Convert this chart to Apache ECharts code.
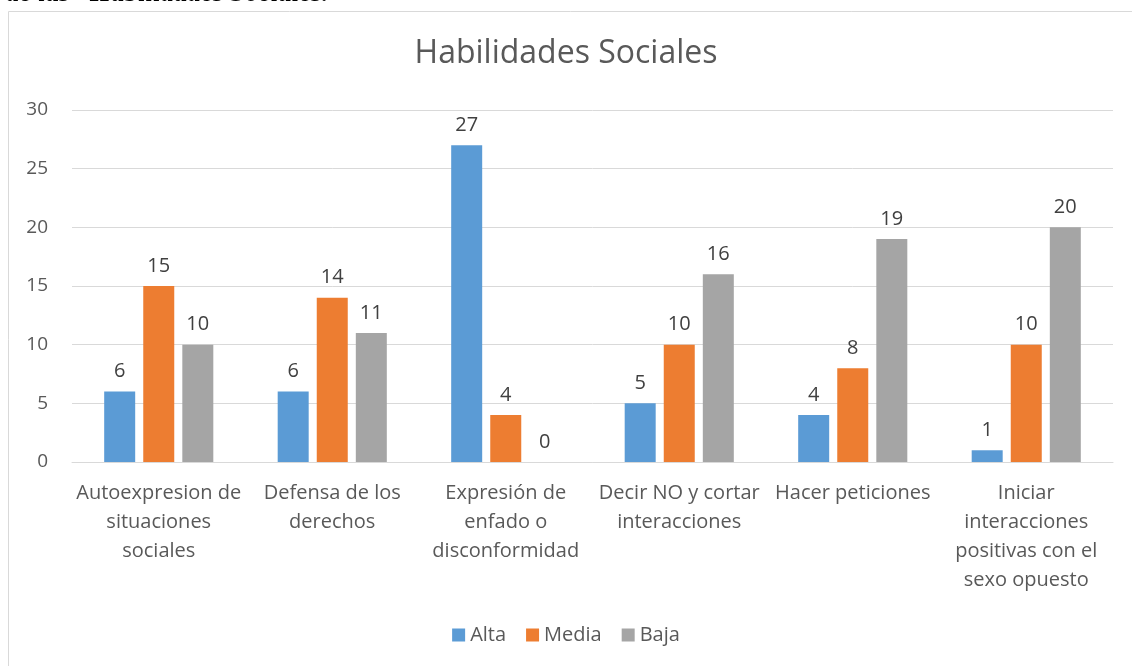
<!DOCTYPE html>
<html lang="es">

<head>
    <meta charset="UTF-8">
    <title>Habilidades Sociales</title>
    <script src="https://cdn.jsdelivr.net/npm/echarts@6/dist/echarts.min.js"></script>
    <style>
        html, body { margin: 0; padding: 0; background: #fff; }
    </style>
</head>

<body>
    <div id="main" style="width: 1132px;height:666px;"></div>
    <script>
        // datos
        var categorias = [
            'Autoexpresion de\nsituaciones\nsociales',
            'Defensa de los\nderechos',
            'Expresión de\nenfado o\ndisconformidad',
            'Decir NO y cortar\ninteracciones',
            'Hacer peticiones',
            'Iniciar\ninteracciones\npositivas con el\nsexo opuesto'
        ];
        var alta = [6, 6, 27, 5, 4, 1];
        var media = [15, 14, 4, 10, 8, 10];
        var baja = [10, 11, 0, 16, 19, 20];
        var yTicks = [0, 5, 10, 15, 20, 25, 30];

        var font = '"Open Sans", "Noto Sans", sans-serif';
        var myChart = echarts.init(document.getElementById('main'));

        function serie(name, data, color) {
            return {
                name: name,
                type: 'bar',
                data: data,
                barWidth: 31,
                barGap: '26%',
                itemStyle: { color: color },
                label: {
                    show: true,
                    position: 'top',
                    distance: 10,
                    color: '#404040',
                    fontSize: 20,
                    fontFamily: font
                }
            };
        }

        var option = {
            animation: false,
            textStyle: { fontFamily: font },
            title: {
                text: 'Habilidades Sociales',
                left: 'center',
                top: 33,
                textStyle: { color: '#595959', fontSize: 32, fontWeight: 'normal', fontFamily: font }
            },
            graphic: [
                {
                    type: 'rect',
                    shape: { x: 8.5, y: 11.5, width: 1200, height: 700 },
                    style: { fill: 'none', stroke: '#d9d9d9', lineWidth: 1 },
                    silent: true
                },
                {
                    // texto del documento cortado arriba
                    type: 'text',
                    x: 6,
                    y: 8,
                    silent: true,
                    style: {
                        text: 'de las “Habilidades Sociales.”',
                        font: 'italic bold 27px "Liberation Serif", serif',
                        fill: '#000',
                        align: 'left',
                        verticalAlign: 'bottom'
                    }
                }
            ],
            legend: {
                bottom: 16,
                left: 'center',
                itemWidth: 13,
                itemHeight: 13,
                itemGap: 20,
                icon: 'rect',
                textStyle: { color: '#595959', fontSize: 20, fontFamily: font },
                data: ['Alta', 'Media', 'Baja']
            },
            grid: { left: 72, right: 19, top: 110, bottom: 204 },
            xAxis: {
                type: 'category',
                data: categorias,
                axisLine: { lineStyle: { color: '#d9d9d9' } },
                axisTick: { show: false },
                axisLabel: {
                    interval: 0,
                    color: '#595959',
                    fontSize: 20,
                    lineHeight: 29,
                    margin: 17,
                    fontFamily: font
                }
            },
            yAxis: {
                type: 'value',
                min: yTicks[0],
                max: yTicks[yTicks.length - 1],
                interval: 5,
                axisLine: { show: false },
                axisTick: { show: false },
                splitLine: { lineStyle: { color: '#d9d9d9' } },
                axisLabel: { color: '#595959', fontSize: 19, margin: 24, fontFamily: font }
            },
            series: [
                serie('Alta', alta, '#5B9BD5'),
                serie('Media', media, '#ED7D31'),
                serie('Baja', baja, '#A5A5A5')
            ]
        };

        myChart.setOption(option);
    </script>
</body>

</html>
